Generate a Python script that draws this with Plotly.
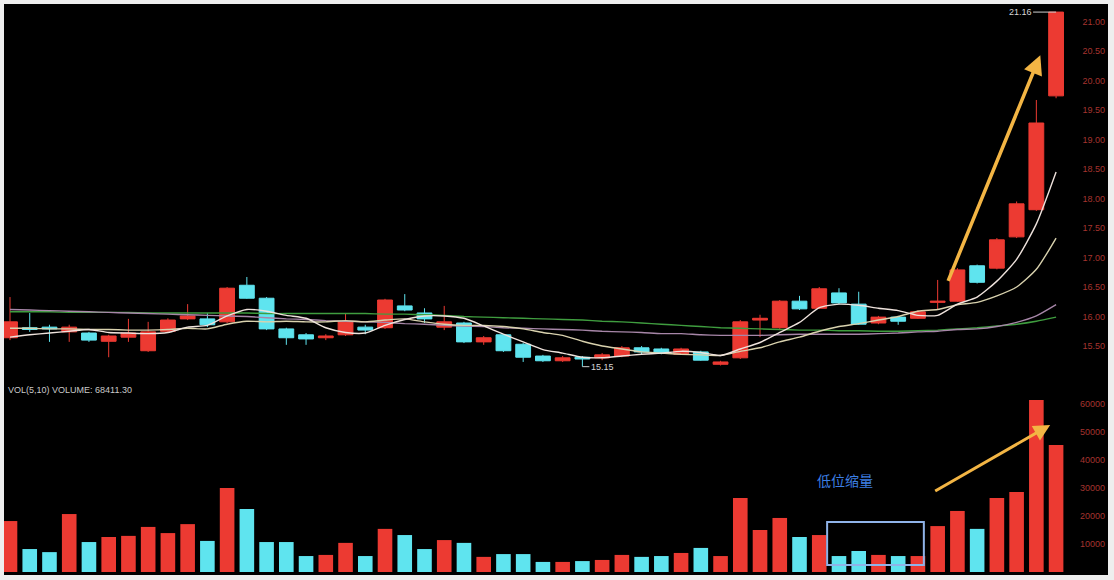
import plotly.graph_objects as go

# ---------------- data ----------------
days = list(range(1, 55))

opens = [15.64, 15.81, 15.82, 15.74, 15.72, 15.58, 15.65, 15.42, 15.75, 15.96,
         15.96, 15.91, 16.53, 16.31, 15.79, 15.69, 15.64, 15.69, 15.82, 15.81,
         16.18, 16.06, 15.82, 15.89, 15.57, 15.69, 15.53, 15.33, 15.25, 15.31,
         15.30, 15.33, 15.47, 15.45, 15.36, 15.40, 15.19, 15.30, 15.94, 15.81,
         16.26, 16.14, 16.40, 16.21, 15.89, 15.99, 15.97, 16.24, 16.26, 16.86,
         16.82, 17.35, 17.81, 19.74]
highs = [16.33, 16.06, 15.86, 15.86, 15.74, 15.69, 15.96, 15.91, 15.97, 16.21,
         16.06, 16.50, 16.67, 16.33, 15.81, 15.72, 15.70, 16.06, 15.86, 16.30,
         16.38, 16.14, 16.18, 15.91, 15.67, 15.70, 15.55, 15.35, 15.33, 15.33,
         15.38, 15.50, 15.50, 15.47, 15.47, 15.42, 15.25, 15.94, 16.03, 16.28,
         16.35, 16.50, 16.48, 16.42, 16.01, 16.01, 16.11, 16.62, 16.82, 16.88,
         17.33, 17.95, 19.67, 21.16]
lows = [15.60, 15.74, 15.57, 15.57, 15.57, 15.31, 15.57, 15.40, 15.74, 15.94,
        15.82, 15.89, 16.30, 15.77, 15.52, 15.52, 15.60, 15.67, 15.70, 15.79,
        16.09, 15.89, 15.77, 15.55, 15.52, 15.40, 15.23, 15.23, 15.23, 15.15,
        15.26, 15.31, 15.36, 15.36, 15.35, 15.25, 15.17, 15.28, 15.65, 15.79,
        16.11, 16.13, 16.21, 15.86, 15.87, 15.86, 15.96, 16.11, 16.25, 16.56,
        16.80, 17.33, 17.79, 19.70]
closes = [15.91, 15.78, 15.79, 15.82, 15.60, 15.67, 15.72, 15.74, 15.94, 16.01,
          15.86, 16.48, 16.31, 15.79, 15.64, 15.62, 15.67, 15.91, 15.77, 16.28,
          16.11, 15.96, 15.91, 15.57, 15.64, 15.42, 15.31, 15.25, 15.30, 15.28,
          15.35, 15.47, 15.40, 15.38, 15.45, 15.26, 15.23, 15.91, 15.97, 16.26,
          16.13, 16.47, 16.23, 15.87, 15.99, 15.92, 16.08, 16.26, 16.79, 16.58,
          17.30, 17.91, 19.28, 21.16]

volumes = [18200, 8200, 7100, 20700, 10700, 12500, 12900, 16100, 13900, 17100,
           11100, 30000, 22500, 10700, 10700, 5700, 6100, 10400, 5700, 15400,
           13200, 8200, 11400, 10400, 5400, 6400, 6400, 3600, 3600, 3900,
           4300, 6100, 5400, 5700, 6800, 8600, 5700, 26400, 15000, 19300,
           12500, 13200, 5700, 7500, 6100, 5700, 5700, 16400, 21800, 15400,
           26400, 28600, 61400, 45400]

ma5 = [15.65, 15.69, 15.72, 15.75, 15.78, 15.73, 15.72, 15.71, 15.73, 15.82,
       15.85, 16.01, 16.12, 16.09, 16.02, 15.97, 15.81, 15.73, 15.72, 15.85,
       15.95, 16.01, 16.01, 15.97, 15.84, 15.70, 15.57, 15.44, 15.38, 15.31,
       15.30, 15.33, 15.36, 15.38, 15.41, 15.39, 15.34, 15.45, 15.56, 15.73,
       15.90, 16.15, 16.21, 16.19, 16.14, 16.10, 16.02, 16.02, 16.21, 16.33,
       16.60, 16.97, 17.57, 18.45]
ma10 = [15.80, 15.80, 15.79, 15.79, 15.78, 15.78, 15.77, 15.77, 15.78, 15.80,
        15.79, 15.87, 15.92, 15.91, 15.92, 15.91, 15.91, 15.93, 15.91, 15.94,
        15.96, 15.91, 15.87, 15.85, 15.85, 15.83, 15.79, 15.73, 15.68, 15.58,
        15.50, 15.45, 15.40, 15.38, 15.36, 15.35, 15.34, 15.41, 15.47, 15.57,
        15.65, 15.75, 15.83, 15.88, 15.94, 16.00, 16.09, 16.12, 16.20, 16.24,
        16.35, 16.50, 16.80, 17.33]
ma30 = [16.12, 16.11, 16.10, 16.09, 16.08, 16.07, 16.06, 16.05, 16.04, 16.03,
        16.02, 16.01, 16.00, 15.98, 15.96, 15.95, 15.93, 15.92, 15.91, 15.90,
        15.88, 15.87, 15.85, 15.84, 15.83, 15.81, 15.80, 15.79, 15.78, 15.77,
        15.75, 15.74, 15.73, 15.71, 15.71, 15.69, 15.68, 15.68, 15.68, 15.69,
        15.70, 15.70, 15.70, 15.70, 15.71, 15.72, 15.74, 15.75, 15.78, 15.79,
        15.83, 15.90, 16.01, 16.20]
ma60 = [16.08, 16.08, 16.08, 16.07, 16.07, 16.07, 16.07, 16.06, 16.06, 16.06,
        16.06, 16.06, 16.06, 16.05, 16.05, 16.05, 16.05, 16.05, 16.05, 16.04,
        16.04, 16.03, 16.02, 16.00, 15.99, 15.98, 15.97, 15.96, 15.95, 15.94,
        15.92, 15.91, 15.89, 15.87, 15.85, 15.83, 15.81, 15.80, 15.79, 15.78,
        15.77, 15.77, 15.76, 15.76, 15.75, 15.75, 15.76, 15.77, 15.79, 15.81,
        15.84, 15.87, 15.92, 15.99]

price_ticks = [15.5, 16.0, 16.5, 17.0, 17.5, 18.0, 18.5, 19.0, 19.5, 20.0, 20.5, 21.0]
price_tick_text = ["15.50", "16.00", "16.50", "17.00", "17.50", "18.00",
                   "18.50", "19.00", "19.50", "20.00", "20.50", "21.00"]
vol_ticks = [10000, 20000, 30000, 40000, 50000, 60000]
vol_tick_text = ["10000", "20000", "30000", "40000", "50000", "60000"]

high_label = "21.16"
low_label = "15.15"
vol_title = "VOL(5,10) VOLUME: 68411.30"
box_label = "低位缩量"

# ---------------- styling ----------------
UP = "#ec3a32"
DOWN = "#5fe4ef"
TICK_COLOR = "#a5342f"

vol_colors = [UP if c >= o else DOWN for o, c in zip(opens, closes)]

fig = go.Figure()

fig.add_trace(go.Candlestick(
    x=days, open=opens, high=highs, low=lows, close=closes,
    increasing=dict(line=dict(color=UP, width=1), fillcolor=UP),
    decreasing=dict(line=dict(color=DOWN, width=1), fillcolor=DOWN),
    whiskerwidth=0, showlegend=False, yaxis="y", xaxis="x",
))

for vals, col in [(ma60, "#3f9d3f"), (ma30, "#a786a8"),
                  (ma10, "#d9d2ae"), (ma5, "#eee2dc")]:
    fig.add_trace(go.Scatter(x=days, y=vals, mode="lines",
                             line=dict(color=col, width=1.4, shape="spline", smoothing=0.6),
                             showlegend=False, hoverinfo="skip", yaxis="y", xaxis="x"))

fig.add_trace(go.Bar(x=days, y=volumes, marker=dict(color=vol_colors, line=dict(width=0)),
                     showlegend=False, yaxis="y2", xaxis="x"))

# ---------------- layout ----------------
W, H = 1114, 580
ML, MR, MT, MB = 4, 6, 4, 5
plot_h = H - MT - MB

def frac(py):
    return 1 - (py - MT) / plot_h

fig.update_layout(
    width=W, height=H,
    margin=dict(l=ML, r=MR, t=MT, b=MB),
    paper_bgcolor="#eeeeee",
    plot_bgcolor="#000000",
    boxgap=0.25, boxgroupgap=0.0,
    bargap=0.26,
    showlegend=False,
    font=dict(family="Liberation Sans, DejaVu Sans, sans-serif"),
    xaxis=dict(range=[0.696, 56.63], showgrid=False, zeroline=False,
               showticklabels=False, ticks="", rangeslider=dict(visible=False),
               anchor="y2", showline=False),
    yaxis=dict(domain=[frac(380), 1.0], range=[14.924, 21.297], side="right",
               tickvals=price_ticks, ticktext=price_tick_text,
               ticklabelposition="inside", ticks="",
               tickfont=dict(size=9, color=TICK_COLOR),
               showgrid=False, zeroline=False, showline=False),
    yaxis2=dict(domain=[0, frac(395)], range=[-1071, 63214], side="right",
                tickvals=vol_ticks, ticktext=vol_tick_text,
                ticklabelposition="inside", ticks="",
                tickfont=dict(size=9, color=TICK_COLOR),
                showgrid=False, zeroline=False, showline=False),
)

annotations = [
    dict(x=54, y=highs[53], xref="x", yref="y", text=high_label, showarrow=True,
         arrowhead=0, arrowwidth=1, arrowcolor="#cfcfcf", ax=-36, ay=0,
         font=dict(size=9, color="#d6d6d6")),
    dict(x=30, y=lows[29], xref="x", yref="y", text=low_label, showarrow=True,
         arrowhead=0, arrowwidth=1, arrowcolor="#cfcfcf", ax=20, ay=0,
         font=dict(size=9, color="#d6d6d6")),
    dict(x=0.002, y=frac(390), xref="paper", yref="paper", text=vol_title,
         showarrow=False, xanchor="left", yanchor="middle",
         font=dict(size=9, color="#c9c9c9")),
    dict(x=43.3, y=32800, xref="x", yref="y2", text=box_label, showarrow=False,
         font=dict(size=14, color="#3d7fe3", family="Noto Sans CJK SC")),
    # price surge arrow
    dict(x=53.2, y=20.43, xref="x", yref="y", ax=48.5, ay=16.58, axref="x", ayref="y",
         text="", showarrow=True, arrowhead=2, arrowsize=1.1, arrowwidth=3.5,
         arrowcolor="#f3b544"),
    # volume surge arrow
    dict(x=53.7, y=52500, xref="x", yref="y2", ax=47.8, ay=28600, axref="x", ayref="y2",
         text="", showarrow=True, arrowhead=2, arrowsize=1.1, arrowwidth=3,
         arrowcolor="#f3b544"),
]
fig.update_layout(annotations=annotations)

# black backdrop covering both panels and the gap between them
fig.add_shape(type="rect", xref="paper", yref="paper", x0=0, x1=1, y0=0, y1=1,
              line=dict(width=0), fillcolor="#000000", layer="below")

fig.add_shape(type="rect", xref="x", yref="y2", x0=42.4, x1=47.3, y0=2500, y1=17900,
              line=dict(color="#8fb3e8", width=2), fillcolor="rgba(0,0,0,0)")

fig.write_html("out.html", config={"displayModeBar": False},
               post_script="document.body.style.margin='0';")
